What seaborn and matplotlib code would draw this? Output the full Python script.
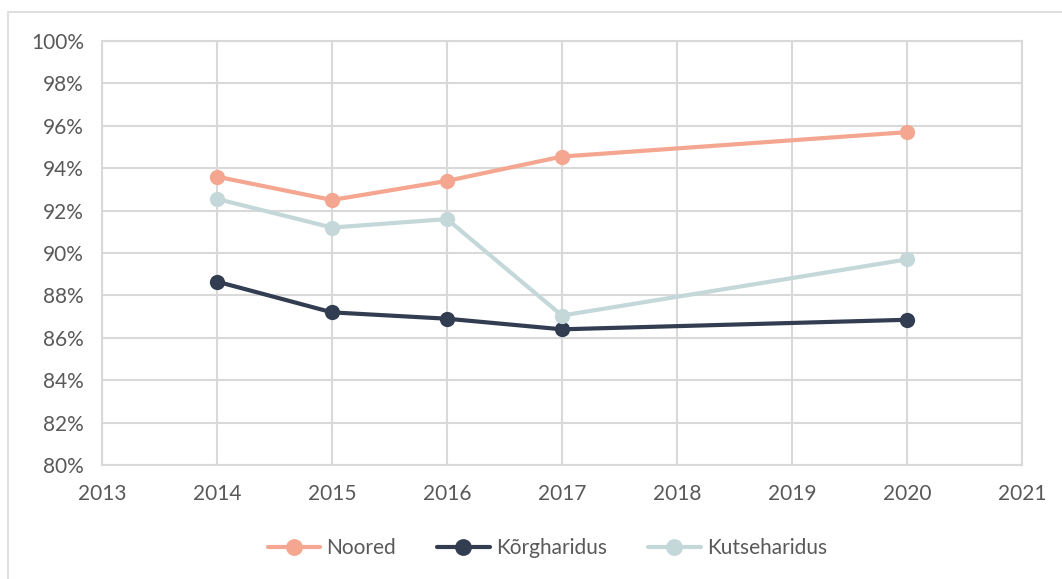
import matplotlib
matplotlib.use("Agg")
import matplotlib.pyplot as plt
import seaborn as sns
import pandas as pd
from matplotlib.patches import Rectangle
from matplotlib.ticker import FuncFormatter, MultipleLocator

years = [2014, 2015, 2016, 2017, 2020]
noored = [93.6, 92.5, 93.4, 94.55, 95.7]
korgharidus = [88.65, 87.2, 86.9, 86.4, 86.85]
kutseharidus = [92.55, 91.2, 91.6, 87.05, 89.7]
series_names = ["Noored", "Kõrgharidus", "Kutseharidus"]
colors = ["#F4A690", "#333D51", "#C4D8D9"]

df = pd.concat([
    pd.DataFrame({"Aasta": years, "Väärtus": v, "Seeria": n})
    for n, v in zip(series_names, [noored, korgharidus, kutseharidus])
])

sns.set_style("white")
plt.rcParams["font.family"] = ["Lato", "DejaVu Sans"]

fig = plt.figure(figsize=(10.62, 5.79), dpi=100)
ax = fig.add_axes([102/1062, 1-465/579, 920/1062, 424/579])
fig.patches.append(Rectangle((8/1062, -0.01), 1.1, 1-12/579+0.01, transform=fig.transFigure,
                             fill=False, edgecolor="#D9D9D9", linewidth=1.2))

sns.lineplot(data=df, x="Aasta", y="Väärtus", hue="Seeria", palette=colors,
             marker="o", markersize=11, markeredgewidth=0, linewidth=3, ax=ax, legend=True)

ax.set_xlim(2013, 2021)
ax.set_ylim(80, 100)
ax.xaxis.set_major_locator(MultipleLocator(1))
ax.yaxis.set_major_locator(MultipleLocator(2))
ax.yaxis.set_major_formatter(FuncFormatter(lambda v, p: f"{int(round(v))}%"))
ax.grid(True, color="#D9D9D9", linewidth=1.5)
ax.set_axisbelow(True)
for s in ax.spines.values():
    s.set_color("#D9D9D9")
    s.set_linewidth(1.5)
ax.tick_params(axis="both", length=0, labelsize=15, colors="#595959")
ax.tick_params(axis="x", pad=14)
ax.tick_params(axis="y", pad=13)
ax.set_xlabel("")
ax.set_ylabel("")

leg = ax.legend(loc="center", bbox_to_anchor=(0.484, -0.196), ncol=3, frameon=False,
                fontsize=15, handlelength=2.5, columnspacing=2.0, handletextpad=0.3,
                markerscale=1.1)
for t in leg.get_texts():
    t.set_color("#595959")

fig.savefig("out.png", dpi=100)
